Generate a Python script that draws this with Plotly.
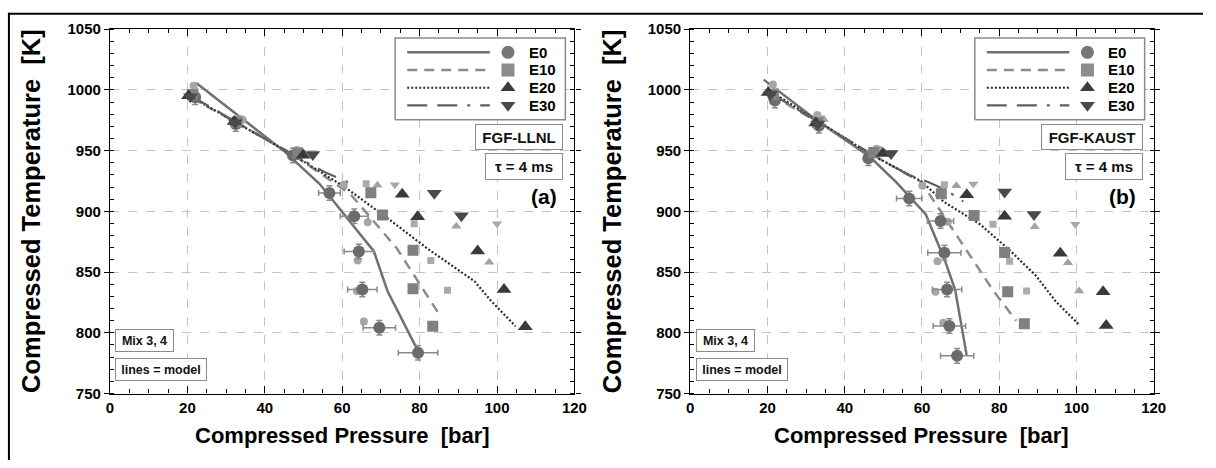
import plotly.graph_objects as go

# ---------------- axis limits and ticks ----------------
P_RANGE = [0, 120]
T_RANGE = [750, 1050]
P_TICKS = [0, 20, 40, 60, 80, 100, 120]
T_TICKS = [750, 800, 850, 900, 950, 1000, 1050]

SERIES = ["E0", "E10", "E20", "E30"]

# ---------------- panel (a): FGF-LLNL ----------------
a_mod_e0_p = [22.3, 45.2, 54.2, 68.2, 71.7, 79.7]
a_mod_e0_T = [1005.8, 949.0, 922.5, 867.0, 834.4, 784.3]
a_mod_e10_p = [21.0, 32.5, 47.0, 62.3, 74.1, 79.6, 85.5]
a_mod_e10_T = [993.5, 973.5, 947.5, 913.6, 869.6, 841.8, 813.0]
a_mod_e20_p = [19.7, 47.0, 60.6, 72.5, 82.3, 94.2, 98.4, 104.8]
a_mod_e20_T = [996.6, 947.0, 920.2, 892.5, 868.7, 842.4, 826.5, 805.4]
a_mod_e30_p = [21.0, 47.0, 56.0, 61.5]
a_mod_e30_T = [995.0, 947.0, 931.5, 924.0]

a_e0_p = [22.0, 32.5, 47.3, 56.7, 63.1, 64.3, 65.2, 69.6, 79.6]
a_e0_T = [994.0, 972.0, 946.0, 915.1, 896.0, 866.9, 835.7, 804.2, 783.6]
a_e0_perr = [0.8, 1.0, 1.2, 2.8, 3.6, 3.8, 3.8, 4.2, 5.1]
a_e0_Terr = [6, 6, 6, 6, 6, 6, 6, 6, 6]
a_e0b_p = [21.6, 34.3, 48.3, 60.4, 66.6, 64.0, 63.8, 65.6]
a_e0b_T = [1003.5, 975.5, 950.5, 922.0, 891.0, 859.5, 834.4, 809.4]

a_e10_p = [21.3, 32.8, 48.5, 67.4, 70.4, 78.3, 78.3, 83.4]
a_e10_T = [996.0, 973.5, 948.0, 915.4, 897.0, 867.9, 836.3, 805.4]
a_e10b_p = [22.0, 33.5, 49.0, 66.2, 78.6, 82.9, 87.2]
a_e10b_T = [999.0, 976.0, 950.0, 922.8, 889.8, 859.5, 835.0]

a_e20_p = [20.3, 32.1, 49.9, 75.5, 79.5, 95.0, 101.8, 107.3]
a_e20_T = [995.2, 974.0, 946.3, 914.1, 895.6, 867.4, 835.7, 804.9]
a_e20b_p = [21.5, 33.8, 49.0, 69.1, 89.5, 98.0]
a_e20b_T = [998.0, 976.0, 949.0, 921.5, 887.7, 858.2]

a_e30_p = [20.8, 32.4, 52.4, 83.8, 90.8]
a_e30_T = [994.5, 973.0, 946.8, 914.9, 896.4]
a_e30b_p = [21.2, 33.5, 49.5, 73.6, 100.0]
a_e30b_T = [997.0, 975.0, 949.0, 922.0, 889.8]

# ---------------- panel (b): FGF-KAUST ----------------
b_mod_e0_p = [19.0, 33.0, 46.5, 53.5, 61.0, 66.0, 68.6, 71.6]
b_mod_e0_T = [1008.5, 974.5, 945.0, 923.5, 897.4, 859.0, 835.2, 781.0]
b_mod_e10_p = [21.0, 47.0, 59.9, 68.2, 74.2, 78.4, 84.4]
b_mod_e10_T = [996.0, 947.0, 923.8, 884.0, 855.0, 835.0, 810.0]
b_mod_e20_p = [20.6, 47.0, 59.7, 65.6, 75.0, 82.7, 89.5, 94.6, 100.9]
b_mod_e20_T = [999.2, 946.5, 925.0, 908.0, 889.4, 868.0, 847.0, 826.0, 806.0]
b_mod_e30_p = [21.0, 47.0, 56.3, 61.9, 66.5, 70.7]
b_mod_e30_T = [997.0, 947.0, 930.4, 923.8, 917.0, 908.0]

b_e0_p = [21.9, 33.3, 46.1, 56.7, 64.8, 65.8, 66.5, 67.1, 69.1]
b_e0_T = [991.3, 970.5, 943.7, 910.6, 892.0, 866.0, 835.7, 805.6, 781.0]
b_e0_perr = [0.8, 1.0, 1.0, 3.3, 3.4, 4.3, 3.8, 4.2, 4.3]
b_e0_Terr = [6, 6, 6, 6, 6, 6, 6, 6, 6]
b_e0b_p = [21.4, 32.9, 48.2, 60.1, 66.7, 64.0, 63.5, 65.5]
b_e0b_T = [1004.5, 979.4, 951.6, 921.2, 891.5, 859.0, 833.9, 808.2]

b_e10_p = [21.5, 33.0, 47.5, 65.0, 73.5, 81.4, 82.2, 86.5]
b_e10_T = [996.0, 973.0, 948.5, 914.5, 896.6, 866.1, 833.9, 807.4]
b_e10b_p = [22.0, 34.0, 48.8, 65.8, 78.4, 82.7, 87.1]
b_e10b_T = [999.0, 976.0, 951.0, 922.0, 889.4, 859.0, 834.4]

b_e20_p = [20.2, 32.5, 49.9, 71.6, 81.4, 95.8, 106.9, 107.7]
b_e20_T = [997.9, 972.8, 947.6, 913.7, 896.0, 865.6, 833.9, 806.1]
b_e20b_p = [21.5, 34.6, 49.0, 68.9, 89.2, 97.8, 100.7]
b_e20b_T = [999.0, 975.6, 950.0, 921.2, 887.3, 857.7, 834.4]

b_e30_p = [20.8, 33.0, 52.0, 81.4, 89.0]
b_e30_T = [996.5, 972.0, 947.6, 915.9, 897.4]
b_e30b_p = [21.5, 34.0, 49.5, 73.3, 99.7]
b_e30b_T = [999.0, 975.0, 949.5, 922.5, 889.4]

# ---------------- styles ----------------
FONT = "Liberation Sans, Arial, sans-serif"
LINE_STYLE = {
    "E0": dict(color="#707070", width=2.5, dash="solid"),
    "E10": dict(color="#8c8c8c", width=2.5, dash="10px,7px"),
    "E20": dict(color="#2b2b2b", width=2.2, dash="2px,2px"),
    "E30": dict(color="#606060", width=2.2, dash="20px,10px,20px,10px,3px,10px"),
}
SYMBOL = {"E0": "circle", "E10": "square", "E20": "triangle-up", "E30": "triangle-down"}
DARK = {"E0": "#6b6b6b", "E10": "#808080", "E20": "#3a3a3a", "E30": "#4a4a4a"}
LIGHT = {"E0": "#a6a6a6", "E10": "#ababab", "E20": "#a2a2a2", "E30": "#a8a8a8"}
DARK_SIZE = {"E0": 12, "E10": 11, "E20": 13, "E30": 13}
LIGHT_SIZE = {"E0": 8, "E10": 7, "E20": 9, "E30": 9}
LEGEND_COLOR = {"E0": "#777777", "E10": "#8c8c8c", "E20": "#3c3c3c", "E30": "#4a4a4a"}

panels = [
    dict(
        xa="x", ya="y", lx="x3", ly="y3", tag="(a)", model_name="FGF-LLNL",
        model={"E0": (a_mod_e0_p, a_mod_e0_T), "E10": (a_mod_e10_p, a_mod_e10_T),
               "E20": (a_mod_e20_p, a_mod_e20_T), "E30": (a_mod_e30_p, a_mod_e30_T)},
        dark={"E0": (a_e0_p, a_e0_T), "E10": (a_e10_p, a_e10_T),
              "E20": (a_e20_p, a_e20_T), "E30": (a_e30_p, a_e30_T)},
        light={"E0": (a_e0b_p, a_e0b_T), "E10": (a_e10b_p, a_e10b_T),
               "E20": (a_e20b_p, a_e20b_T), "E30": (a_e30b_p, a_e30b_T)},
        err=(a_e0_perr, a_e0_Terr), name_box_w=88,
    ),
    dict(
        xa="x2", ya="y2", lx="x4", ly="y4", tag="(b)", model_name="FGF-KAUST",
        model={"E0": (b_mod_e0_p, b_mod_e0_T), "E10": (b_mod_e10_p, b_mod_e10_T),
               "E20": (b_mod_e20_p, b_mod_e20_T), "E30": (b_mod_e30_p, b_mod_e30_T)},
        dark={"E0": (b_e0_p, b_e0_T), "E10": (b_e10_p, b_e10_T),
              "E20": (b_e20_p, b_e20_T), "E30": (b_e30_p, b_e30_T)},
        light={"E0": (b_e0b_p, b_e0b_T), "E10": (b_e10b_p, b_e10b_T),
               "E20": (b_e20b_p, b_e20b_T), "E30": (b_e30b_p, b_e30b_T)},
        err=(b_e0_perr, b_e0_Terr), name_box_w=102,
    ),
]

W, H = 1216, 468
PLOT_TOP, PLOT_BOTTOM = 21, 399
PANEL_X = [(107.5, 578.5), (696.0, 1166.0)]
Y_DOMAIN = [1 - PLOT_BOTTOM / H, 1 - PLOT_TOP / H]

fig = go.Figure()

# legend layout inside each panel (fractions of the panel, drawn on an overlay axis)
LEG_BOX_X = [0.614, 0.9805]
LEG_BOX_Y = [0.7513, 0.9762]
LEG_ROWS = [0.9365, 0.8881, 0.8394, 0.7910]
LEG_LINE_X = [0.640, 0.818]
LEG_MARK_X = 0.857
LEG_TEXT_X = 0.897

shapes = []
annotations = []

for i, pn in enumerate(panels):
    xa, ya = pn["xa"], pn["ya"]
    # model curves
    for s in SERIES:
        px, pt = pn["model"][s]
        fig.add_trace(go.Scatter(x=px, y=pt, mode="lines", line=LINE_STYLE[s],
                                 xaxis=xa, yaxis=ya, showlegend=False, hoverinfo="skip"))
    # second mixture (small, light markers)
    for s in SERIES:
        px, pt = pn["light"][s]
        fig.add_trace(go.Scatter(x=px, y=pt, mode="markers",
                                 marker=dict(symbol=SYMBOL[s], size=LIGHT_SIZE[s],
                                             color=LIGHT[s], line=dict(width=0)),
                                 xaxis=xa, yaxis=ya, showlegend=False))
    # first mixture (large, dark markers)
    for s in SERIES:
        px, pt = pn["dark"][s]
        extra = {}
        if s == "E0":
            perr, terr = pn["err"]
            extra = dict(
                error_x=dict(type="data", array=perr, color="#8a8a8a", thickness=1.5, width=3),
                error_y=dict(type="data", array=terr, color="#8a8a8a", thickness=1.5, width=3),
            )
        fig.add_trace(go.Scatter(x=px, y=pt, mode="markers",
                                 marker=dict(symbol=SYMBOL[s], size=DARK_SIZE[s],
                                             color=DARK[s], line=dict(width=0)),
                                 xaxis=xa, yaxis=ya, showlegend=False, **extra))

    # hand-built legend box: white panel with grey frame, then line sample, marker, label
    xd, yd = f"{xa} domain", f"{ya} domain"
    bx0, bx1 = LEG_BOX_X
    by0, by1 = LEG_BOX_Y
    fig.add_trace(go.Scatter(x=[bx0, bx1, bx1, bx0, bx0], y=[by0, by0, by1, by1, by0],
                             mode="lines", fill="toself", fillcolor="white",
                             line=dict(color="#8a8a8a", width=1.5),
                             xaxis=pn["lx"], yaxis=pn["ly"], showlegend=False,
                             hoverinfo="skip"))
    for s, ry in zip(SERIES, LEG_ROWS):
        fig.add_trace(go.Scatter(x=LEG_LINE_X, y=[ry, ry], mode="lines", line=LINE_STYLE[s],
                                 xaxis=pn["lx"], yaxis=pn["ly"], showlegend=False,
                                 hoverinfo="skip"))
        fig.add_trace(go.Scatter(x=[LEG_MARK_X], y=[ry], mode="markers",
                                 marker=dict(symbol=SYMBOL[s], size=13, color=LEGEND_COLOR[s],
                                             line=dict(width=0)),
                                 xaxis=pn["lx"], yaxis=pn["ly"], showlegend=False,
                                 hoverinfo="skip"))
        annotations.append(dict(text=s, xref=xd, yref=yd, x=LEG_TEXT_X, y=ry,
                                xanchor="left", yanchor="middle", showarrow=False,
                                font=dict(family=FONT, size=15, color="black", weight="bold")))

    box = dict(showarrow=False, bgcolor="white", bordercolor="#8a8a8a", borderwidth=1,
               borderpad=0, xref=xd, yref=yd, align="center", valign="middle")
    annotations.append(dict(box, text=pn["model_name"], x=0.976, y=0.704,
                            xanchor="right", yanchor="middle",
                            width=pn["name_box_w"] - 2, height=24,
                            font=dict(family=FONT, size=15, color="#111", weight="bold")))
    annotations.append(dict(box, text="τ = 4 ms", x=0.976, y=0.6234,
                            xanchor="right", yanchor="middle", width=76, height=25,
                            font=dict(family=FONT, size=15, color="#111", weight="bold")))
    annotations.append(dict(box, text="Mix 3, 4", x=0.0117, y=0.1442,
                            xanchor="left", yanchor="middle", width=57, height=21,
                            font=dict(family=FONT, size=12.5, color="#111", weight="bold")))
    annotations.append(dict(box, text="lines = model", x=0.0117, y=0.0648,
                            xanchor="left", yanchor="middle", width=90, height=21,
                            font=dict(family=FONT, size=12.5, color="#111", weight="bold")))
    annotations.append(dict(text=pn["tag"], xref=xd, yref=yd, x=0.967, y=0.5397,
                            xanchor="right", yanchor="middle", showarrow=False,
                            font=dict(family=FONT, size=21, color="black", weight="bold")))

    # axis titles
    x0, x1 = PANEL_X[i]
    annotations.append(dict(text="Compressed Pressure  [bar]", xref="paper", yref="paper",
                            x=(x0 + x1) / 2 / W, y=1 - 443 / H, xanchor="center",
                            yanchor="middle", showarrow=False,
                            font=dict(family=FONT, size=22, color="black", weight="bold")))
    annotations.append(dict(text="Compressed Temperature  [K]", xref="paper", yref="paper",
                            x=(x0 - 79.5) / W, y=1 - (PLOT_TOP + PLOT_BOTTOM) / 2 / H,
                            xanchor="center", yanchor="middle", textangle=-90,
                            showarrow=False,
                            font=dict(family=FONT, size=25.5, color="black", weight="bold")))

# outer frame lines
shapes.append(dict(type="line", xref="paper", yref="paper", x0=4 / W, x1=1, y0=1 - 5 / H,
                   y1=1 - 5 / H, line=dict(color="black", width=2)))
shapes.append(dict(type="line", xref="paper", yref="paper", x0=5 / W, x1=5 / W, y0=0,
                   y1=1 - 4 / H, line=dict(color="black", width=2)))

axis_common = dict(
    showline=True, linecolor="black", linewidth=1.2, mirror="ticks",
    showgrid=True, gridcolor="#c4c4c4", griddash="dash", gridwidth=1,
    zeroline=False, tickcolor="black", tickwidth=1,
    tickfont=dict(family=FONT, size=15, color="black", weight="bold"),
)
x_common = dict(axis_common, range=P_RANGE, tickvals=P_TICKS, ticks="inside", ticklen=7,
                minor=dict(dtick=5, tick0=0, ticks="inside", ticklen=4, tickcolor="black",
                           showgrid=False))
y_common = dict(axis_common, range=T_RANGE, tickvals=T_TICKS, ticks="outside", ticklen=5,
                minor=dict(dtick=10, tick0=750, ticks="inside", ticklen=4, tickcolor="black",
                           showgrid=False))

hidden = dict(range=[0, 1], visible=False, fixedrange=True)

fig.update_layout(
    width=W, height=H,
    margin=dict(l=0, r=0, t=0, b=0),
    paper_bgcolor="white", plot_bgcolor="white",
    showlegend=False,
    xaxis=dict(x_common, domain=[PANEL_X[0][0] / W, PANEL_X[0][1] / W], anchor="y"),
    yaxis=dict(y_common, domain=Y_DOMAIN, anchor="x"),
    xaxis2=dict(x_common, domain=[PANEL_X[1][0] / W, PANEL_X[1][1] / W], anchor="y2"),
    yaxis2=dict(y_common, domain=Y_DOMAIN, anchor="x2"),
    xaxis3=dict(hidden, overlaying="x", anchor="y3"),
    yaxis3=dict(hidden, overlaying="y", anchor="x3"),
    xaxis4=dict(hidden, overlaying="x2", anchor="y4"),
    yaxis4=dict(hidden, overlaying="y2", anchor="x4"),
    shapes=shapes,
    annotations=annotations,
)

fig.write_html("out.html")
